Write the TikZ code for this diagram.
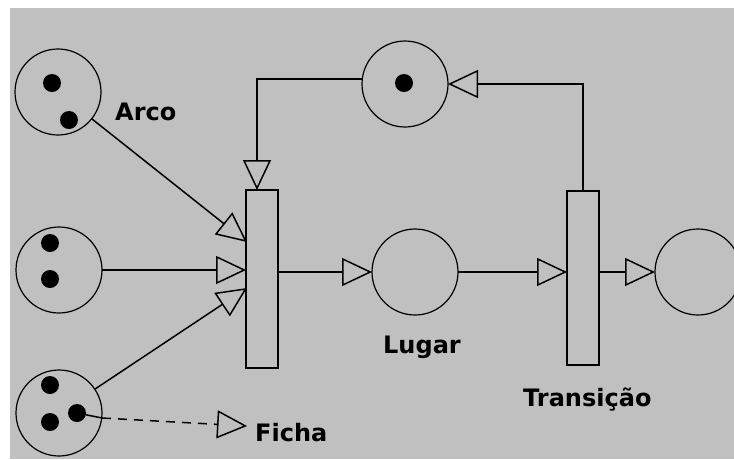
\documentclass[tikz,border=0pt]{standalone}
\usepackage{fontspec}
\setmainfont{DejaVu Sans}
\usetikzlibrary{arrows.meta}
\definecolor{bggray}{HTML}{C0C0C0}
\tikzset{
  place/.style={circle,draw,line width=1.2pt,minimum size=86pt,inner sep=0pt,outer sep=0pt},
  trans/.style={rectangle,draw,line width=1.8pt,minimum width=32pt,inner sep=0pt,outer sep=0pt},
  tok/.style={circle,fill=black,minimum size=18pt,inner sep=0pt},
  lbl/.style={inner sep=0pt,anchor=base west,font=\bfseries\fontsize{24}{28}\selectfont},
  arc/.style={line width=1.5pt,-{Triangle[open,length=30pt,width=28pt,line width=1.5pt]}},
  plain/.style={line width=1.5pt}
}
\begin{document}
\begin{tikzpicture}[x=1pt,y=-1pt]
\useasboundingbox (0,0) rectangle (734,459);
\clip (0,0) rectangle (734,459);
\fill[white] (0,0) rectangle (734,459);
\fill[bggray] (10,8) rectangle (734,459);
% places
\node[place] (p1) at (58,92) {};
\node[place] (p2) at (59,270) {};
\node[place] (p3) at (59,413) {};
\node[place] (p4) at (415,272) {};
\node[place] (p5) at (405,84) {};
\node[place] (p6) at (698,272) {};
% transitions
\node[trans,minimum height=178pt] (t1) at (262,279) {};
\node[trans,minimum height=174pt] (t2) at (583,278) {};
% tokens
\node[tok] (k1a) at (52,83) {};
\node[tok] (k1b) at (69,120) {};
\node[tok] (k2a) at (50,243) {};
\node[tok] (k2b) at (50,279) {};
\node[tok] (k3a) at (50,385) {};
\node[tok] (k3b) at (50,422) {};
\node[tok] (k3c) at (77,413) {};
\node[tok] (k5) at (404,83) {};
% labels
\node[lbl] (arco) at (115,120) {Arco};
\node[lbl] (lugar) at (383,353) {Lugar};
\node[lbl] (transicao) at (523,406) {Transição};
\node[lbl] (ficha) at (255,441) {Ficha};
% helper coordinates
\coordinate (a1) at (247,242);
\coordinate (a3) at (247,288);
\coordinate (fb) at (102,418);
\coordinate (ft) at (247,426);
\coordinate (p5w) at ([yshift=5pt]p5.west);
\coordinate (t1n) at ([xshift=-5pt]t1.north);
% arcs
\draw[arc] (p1) -- (a1);
\draw[arc] (p2) -- (p2 -| t1.west);
\draw[arc] (p3) -- (a3);
\draw[arc] (t1.east |- p4) -- (p4);
\draw[arc] (p4) -- (p4 -| t2.west);
\draw[arc] (t2.east |- p6) -- (p6);
\draw[arc] (t2.north) |- (p5);
\draw[arc] (p5w) -| (t1n);
% token pointer
\draw[plain] (k3c) -- (fb);
\draw[arc,dash pattern=on 9pt off 7pt] (fb) -- (ft);
\end{tikzpicture}
\end{document}
